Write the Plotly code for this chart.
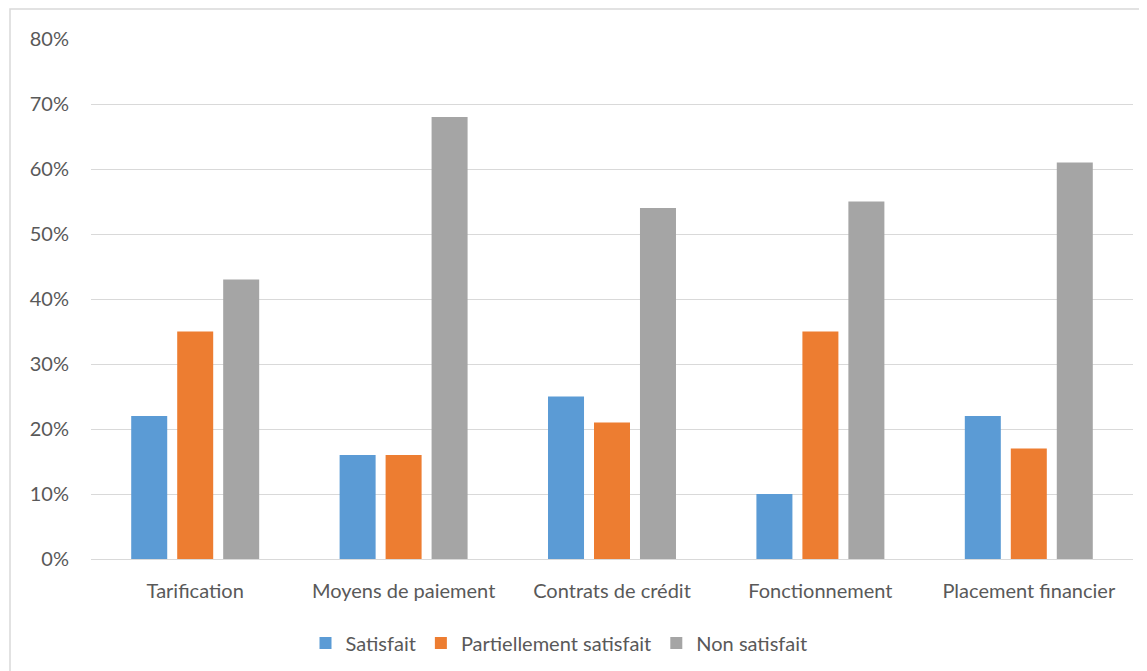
import plotly.graph_objects as go

categories = ["Tarification", "Moyens de paiement", "Contrats de crédit", "Fonctionnement", "Placement financier"]
satisfait = [0.22, 0.16, 0.25, 0.10, 0.22]
partiel = [0.35, 0.16, 0.21, 0.35, 0.17]
non_satisfait = [0.43, 0.68, 0.54, 0.55, 0.61]
series_names = ["Satisfait", "Partiellement satisfait", "Non satisfait"]
colors = ["#5B9BD5", "#ED7D31", "#A5A5A5"]
y_ticks = [0, 0.1, 0.2, 0.3, 0.4, 0.5, 0.6, 0.7, 0.8]

# page has an 8px body margin, so offsets are relative to (8, 8)
OFF = 8
W, H = 1147, 671
ml, mt = 91 - OFF, 39 - OFF
pw, ph = 1042, 520
mr = W - ml - pw
mb = H - mt - ph

fig = go.Figure()
for name, vals, c in zip(series_names, [satisfait, partiel, non_satisfait], colors):
    fig.add_trace(go.Bar(x=categories, y=vals, name=name, marker_color=c, marker_line_width=0))

font = dict(family="Lato, Open Sans, sans-serif", size=20, color="#595959")

# outer chart border (viewport x=10, y=9)
fig.add_shape(type="rect", xref="paper", yref="paper",
              x0=(10 - OFF - ml) / pw, x1=(W + 40 - ml) / pw,
              y0=-0.5, y1=(mt + ph - (9 - OFF)) / ph,
              line=dict(color="#D9D9D9", width=1.5), fillcolor="rgba(0,0,0,0)", layer="below")

fig.update_layout(
    width=W, height=H,
    margin=dict(l=ml, r=mr, t=mt, b=mb, autoexpand=False),
    paper_bgcolor="white", plot_bgcolor="white",
    barmode="group", bargap=0.338, bargroupgap=0.217,
    font=font,
    showlegend=True,
    legend=dict(orientation="h", x=(559 - 91) / pw, xanchor="center", y=-(643 - 559) / ph, yanchor="middle",
                font=font, itemwidth=30, traceorder="normal"),
    xaxis=dict(showgrid=False, showline=True, linecolor="#D9D9D9", linewidth=1,
               ticks="", tickfont=font, ticklabelstandoff=14),
    yaxis=dict(range=[0, 0.8], tickvals=y_ticks, tickformat=".0%", showgrid=True,
               gridcolor="#D9D9D9", gridwidth=1, zeroline=False, showline=False,
               ticks="", tickfont=font, ticklabelstandoff=21),
)

fig.write_html("out.html")
